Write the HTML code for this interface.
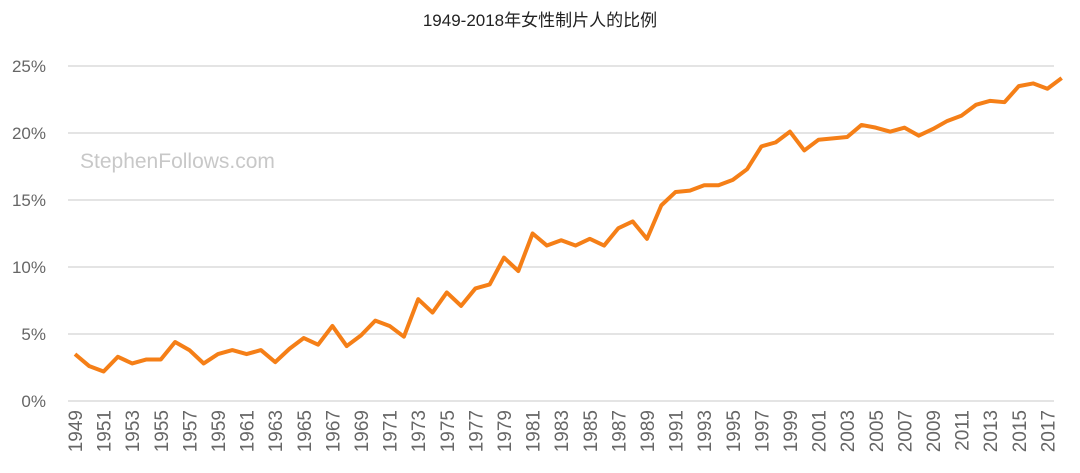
<!DOCTYPE html>
<html><head><meta charset="utf-8"><style>
body{margin:0;background:#fff;}
svg{display:block;font-family:"Liberation Sans","Noto Sans CJK SC",sans-serif;}
</style></head><body>
<svg id="chart" width="1080" height="473">
<text x="540" y="26" text-anchor="middle" font-size="17" fill="#222">1949-2018年女性制片人的比例</text>
<text x="80" y="168" font-size="21" fill="#c8c8c8">StephenFollows.com</text>
<g id="grid"></g><g id="ylab"></g><g id="xlab"></g>
<path id="line" fill="none" stroke="#f57f17" stroke-width="4" stroke-linejoin="round"/>
</svg>
<script>
const startYear = 1949;
const values = [3.5,2.6,2.2,3.3,2.8,3.1,3.1,4.4,3.8,2.8,3.5,3.8,3.5,3.8,2.9,3.9,4.7,4.2,5.6,4.1,4.9,6.0,5.6,4.8,7.6,6.6,8.1,7.1,8.4,8.7,10.7,9.7,12.5,11.6,12.0,11.6,12.1,11.6,12.9,13.4,12.1,14.6,15.6,15.7,16.1,16.1,16.5,17.3,19.0,19.3,20.1,18.7,19.5,19.6,19.7,20.6,20.4,20.1,20.4,19.8,20.3,20.9,21.3,22.1,22.4,22.3,23.5,23.7,23.3,24.1];
const yTicks = [0,5,10,15,20,25];
const ns = "http://www.w3.org/2000/svg";
const x = i => 75 + i * 14.3;
const y = v => 401 - v * 13.4;
const grid = document.getElementById('grid'), ylab = document.getElementById('ylab'), xlab = document.getElementById('xlab');
yTicks.forEach(t => {
  const l = document.createElementNS(ns, 'line');
  l.setAttribute('x1', 68); l.setAttribute('x2', 1054);
  l.setAttribute('y1', y(t)); l.setAttribute('y2', y(t));
  l.setAttribute('stroke', '#dcdcdc'); l.setAttribute('stroke-width', 1.5);
  
  
  grid.appendChild(l);
  const tx = document.createElementNS(ns, 'text');
  tx.setAttribute('x', 46); tx.setAttribute('y', y(t) + 6);
  tx.setAttribute('text-anchor', 'end'); tx.setAttribute('font-size', 17); tx.setAttribute('fill', '#666');
  tx.textContent = t + '%';
  
  
  ylab.appendChild(tx);
});
values.forEach((v, i) => {
  if (i % 2) return;
  const tx = document.createElementNS(ns, 'text');
  const xx = x(i) + 7, yy = 410;
  tx.setAttribute('transform', `translate(${xx},${yy}) rotate(-90)`);
  tx.setAttribute('text-anchor', 'end'); tx.setAttribute('font-size', 19); tx.setAttribute('fill', '#666');
  tx.textContent = startYear + i;
  
  
  xlab.appendChild(tx);
});
document.getElementById('line').setAttribute('d', values.map((v, i) => (i ? 'L' : 'M') + x(i) + ',' + y(v)).join(''));
</script>
</body></html>
